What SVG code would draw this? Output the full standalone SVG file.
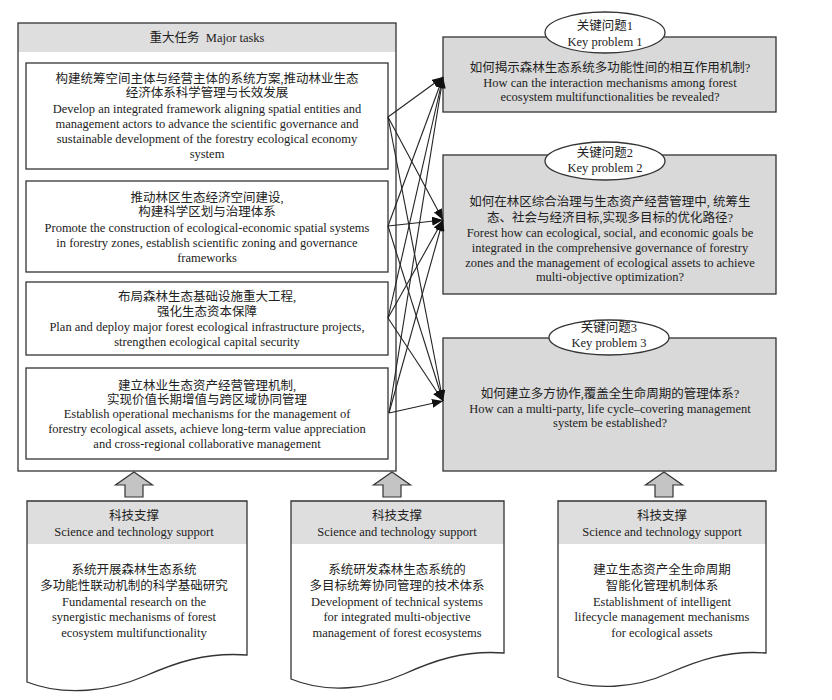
<svg xmlns="http://www.w3.org/2000/svg" width="832" height="700" viewBox="0 0 832 700">
<defs>
<style>
text{font-family:"Liberation Serif","Noto Sans CJK SC",serif;fill:#222;text-anchor:middle}
.zh{font-size:12.5px}
.en{font-size:12.5px}
.box{fill:#fff;stroke:#333;stroke-width:1.3}
.gbox{fill:#d9d9d9;stroke:#333;stroke-width:1.3}
.band{fill:#dedede}
.ell{fill:#fff;stroke:#333;stroke-width:1.3}
.barrow{fill:#c4c4c4;stroke:#333;stroke-width:1.2}
.con line{stroke:#222;stroke-width:1.1}
</style>
<marker id="ah" markerUnits="userSpaceOnUse" markerWidth="11" markerHeight="9" refX="11" refY="4.5" orient="auto">
<path d="M0,0 L11,4.5 L0,9 z" fill="#111"/>
</marker>
</defs>
<rect width="832" height="700" fill="#fff"/>

<g id="major-tasks">
<rect x="18" y="23" width="378" height="448" fill="#fff"/>
<rect x="18" y="23" width="378" height="29" class="band"/>
<rect x="18" y="23" width="378" height="448" fill="none" stroke="#333" stroke-width="1.3"/>
<text x="207" y="42" class="zh">重大任务&#160;&#160;Major tasks</text>
</g>

<g id="task1">
<rect x="26" y="63" width="362" height="106" class="box"/>
<text x="207" y="83" class="zh">构建统筹空间主体与经营主体的系统方案,推动林业生态</text>
<text x="207" y="97" class="zh">经济体系科学管理与长效发展</text>
<text x="207" y="113" class="en">Develop an integrated framework aligning spatial entities and</text>
<text x="207" y="128" class="en">management actors to advance the scientific governance and</text>
<text x="207" y="143" class="en">sustainable development of the forestry ecological economy</text>
<text x="207" y="158" class="en">system</text>
</g>

<g id="task2">
<rect x="26" y="181" width="362" height="91" class="box"/>
<text x="207" y="202" class="zh">推动林区生态经济空间建设,</text>
<text x="207" y="216" class="zh">构建科学区划与治理体系</text>
<text x="207" y="232" class="en">Promote the construction of ecological-economic spatial systems</text>
<text x="207" y="247" class="en">in forestry zones, establish scientific zoning and governance</text>
<text x="207" y="262" class="en">frameworks</text>
</g>

<g id="task3">
<rect x="26" y="282" width="362" height="73" class="box"/>
<text x="207" y="301" class="zh">布局森林生态基础设施重大工程,</text>
<text x="207" y="316" class="zh">强化生态资本保障</text>
<text x="207" y="331" class="en">Plan and deploy major forest ecological infrastructure projects,</text>
<text x="207" y="346" class="en">strengthen ecological capital security</text>
</g>

<g id="task4">
<rect x="26" y="368" width="362" height="91" class="box"/>
<text x="207" y="390" class="zh">建立林业生态资产经营管理机制,</text>
<text x="207" y="404" class="zh">实现价值长期增值与跨区域协同管理</text>
<text x="207" y="418" class="en">Establish operational mechanisms for the management of</text>
<text x="207" y="433" class="en">forestry ecological assets, achieve long-term value appreciation</text>
<text x="207" y="448" class="en">and cross-regional collaborative management</text>
</g>

<g id="problem1">
<rect x="443" y="37" width="333" height="75" class="gbox"/>
<ellipse cx="605" cy="32.5" rx="60" ry="20.5" class="ell"/>
<text x="605" y="30" class="zh">关键问题1</text>
<text x="605" y="46" class="en">Key problem 1</text>
<text x="610" y="72" class="zh">如何揭示森林生态系统多功能性间的相互作用机制?</text>
<text x="610" y="87" class="en">How can the interaction mechanisms among forest</text>
<text x="610" y="101" class="en">ecosystem multifunctionalities be revealed?</text>
</g>

<g id="problem2">
<rect x="443" y="155" width="333" height="139" class="gbox"/>
<ellipse cx="605" cy="161" rx="60" ry="19" class="ell"/>
<text x="605" y="157" class="zh">关键问题2</text>
<text x="605" y="172" class="en">Key problem 2</text>
<text x="610" y="206" class="zh">如何在林区综合治理与生态资产经营管理中, 统筹生</text>
<text x="610" y="222" class="zh">态、社会与经济目标,实现多目标的优化路径?</text>
<text x="610" y="237" class="en">Forest how can ecological, social, and economic goals be</text>
<text x="610" y="252" class="en">integrated in the comprehensive governance of forestry</text>
<text x="610" y="267" class="en">zones and the management of ecological assets to achieve</text>
<text x="610" y="281" class="en">multi-objective optimization?</text>
</g>

<g id="problem3">
<rect x="443" y="338" width="333" height="133" class="gbox"/>
<ellipse cx="609" cy="337.5" rx="60" ry="17.5" class="ell"/>
<text x="609" y="332" class="zh">关键问题3</text>
<text x="609" y="347" class="en">Key problem 3</text>
<text x="610" y="398" class="zh">如何建立多方协作,覆盖全生命周期的管理体系?</text>
<text x="610" y="413" class="en">How can a multi-party, life cycle–covering management</text>
<text x="610" y="427" class="en">system be established?</text>
</g>

<g id="connectors" class="con">
<line x1="388" y1="117" x2="443" y2="77" marker-end="url(#ah)"/>
<line x1="388" y1="117" x2="443" y2="220" marker-end="url(#ah)"/>
<line x1="388" y1="117" x2="443" y2="401" marker-end="url(#ah)"/>
<line x1="388" y1="226" x2="443" y2="77" marker-end="url(#ah)"/>
<line x1="388" y1="226" x2="443" y2="220" marker-end="url(#ah)"/>
<line x1="388" y1="226" x2="443" y2="401" marker-end="url(#ah)"/>
<line x1="388" y1="318" x2="443" y2="77" marker-end="url(#ah)"/>
<line x1="388" y1="318" x2="443" y2="220" marker-end="url(#ah)"/>
<line x1="388" y1="318" x2="443" y2="401" marker-end="url(#ah)"/>
<line x1="389" y1="413" x2="443" y2="77" marker-end="url(#ah)"/>
<line x1="389" y1="413" x2="443" y2="220" marker-end="url(#ah)"/>
<line x1="389" y1="413" x2="443" y2="401" marker-end="url(#ah)"/>
</g>

<g id="support-arrows">
<polygon class="barrow" points="134,472 152.5,485 143,485 143,497 125,497 125,485 115.5,485"/>
<polygon class="barrow" points="392,472 410.5,485 401,485 401,497 383,497 383,485 373.5,485"/>
<polygon class="barrow" points="664,472 682.5,485 673,485 673,497 655,497 655,485 645.5,485"/>
</g>

<g id="support1">
<path d="M27,501 H247 V655 C205,652 175,663 145,676 C110,691 65,697 27,682 Z" fill="#fff"/>
<rect x="27" y="501" width="220" height="43" class="band"/>
<path d="M27,501 H247 V655 C205,652 175,663 145,676 C110,691 65,697 27,682 Z" fill="none" stroke="#333" stroke-width="1.3"/>
<text x="134" y="520" class="zh">科技支撑</text>
<text x="134" y="536" class="en">Science and technology support</text>
<text x="134" y="574" class="zh">系统开展森林生态系统</text>
<text x="134" y="590" class="zh">多功能性联动机制的科学基础研究</text>
<text x="134" y="606" class="en">Fundamental research on the</text>
<text x="134" y="621" class="en">synergistic mechanisms of forest</text>
<text x="134" y="637" class="en">ecosystem multifunctionality</text>
</g>

<g id="support2">
<path d="M291,501 H504 V653 C463,650 433,661 404,674 C370,689 327,694 291,679 Z" fill="#fff"/>
<rect x="291" y="501" width="213" height="43" class="band"/>
<path d="M291,501 H504 V653 C463,650 433,661 404,674 C370,689 327,694 291,679 Z" fill="none" stroke="#333" stroke-width="1.3"/>
<text x="397" y="520" class="zh">科技支撑</text>
<text x="397" y="536" class="en">Science and technology support</text>
<text x="397" y="574" class="zh">系统研发森林生态系统的</text>
<text x="397" y="590" class="zh">多目标统筹协同管理的技术体系</text>
<text x="397" y="606" class="en">Development of technical systems</text>
<text x="397" y="621" class="en">for integrated multi-objective</text>
<text x="397" y="637" class="en">management of forest ecosystems</text>
</g>

<g id="support3">
<path d="M558,501 H766 V653 C726,650 697,661 669,673 C636,688 593,692 558,677 Z" fill="#fff"/>
<rect x="558" y="501" width="208" height="43" class="band"/>
<path d="M558,501 H766 V653 C726,650 697,661 669,673 C636,688 593,692 558,677 Z" fill="none" stroke="#333" stroke-width="1.3"/>
<text x="662" y="520" class="zh">科技支撑</text>
<text x="662" y="536" class="en">Science and technology support</text>
<text x="662" y="574" class="zh">建立生态资产全生命周期</text>
<text x="662" y="590" class="zh">智能化管理机制体系</text>
<text x="662" y="606" class="en">Establishment of intelligent</text>
<text x="662" y="621" class="en">lifecycle management mechanisms</text>
<text x="662" y="637" class="en">for ecological assets</text>
</g>
</svg>
